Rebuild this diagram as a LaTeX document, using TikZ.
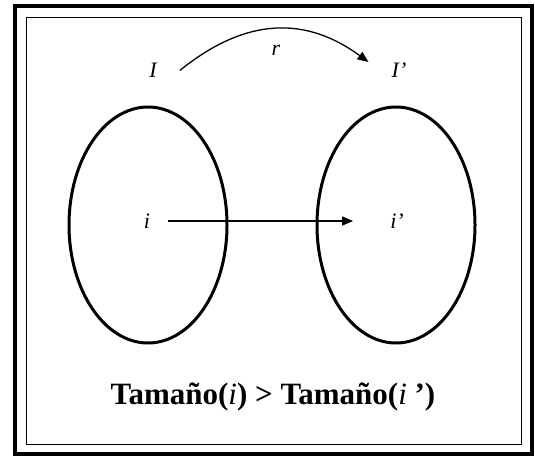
\documentclass[tikz,border=0pt]{standalone}
\usepackage{fontspec}
\setmainfont{Liberation Serif}
\usepackage{tikz}
\usetikzlibrary{arrows.meta,shapes.geometric}

\begin{document}
\begin{tikzpicture}[x=1pt, y=-1pt,
    conj/.style = {draw, ellipse, line width=3pt, minimum width=158pt, minimum height=236pt, inner sep=0pt},
    lbl/.style = {font=\fontsize{22}{24}\selectfont\itshape, inner sep=1pt},
    flecha/.style = {line width=1.3pt, -{Triangle[length=11pt,width=9pt]}}]
                \useasboundingbox (0,0) rectangle (535,457);
                \fill[white] (0,0) rectangle (535,457);
                \draw[line width=4pt] (15,6) rectangle (532,454);
                \draw[line width=1pt] (26,18) rectangle (521,444);
                \node[conj] (cI) at (148,225) {};
                \node[conj] (cIp) at (396,225) {};
                \node[lbl] (I) at (153,70) {I};
                \node[lbl] (Ip) at (399,70) {I’};
                \node[lbl] (r) at (276,50) {r};
                \node[lbl] (i) at (147,221) {i};
                \node[lbl] (ip) at (397,221) {i’};
                \draw[flecha] ([xshift=22pt, yshift=8pt]I.south east) .. controls (240,22) and (300,12) .. ([xshift=-22pt, yshift=8pt]Ip.west);
                \draw[flecha, shorten <=17pt, shorten >=36pt] (i) -- (ip);
                \node[font=\fontsize{31}{33}\selectfont\bfseries] (tam) at (273,397) {Tamaño(\textmd{\textit{i}}) > Tamaño(\textmd{\textit{i}} ’)};
            \end{tikzpicture}
\end{document}
